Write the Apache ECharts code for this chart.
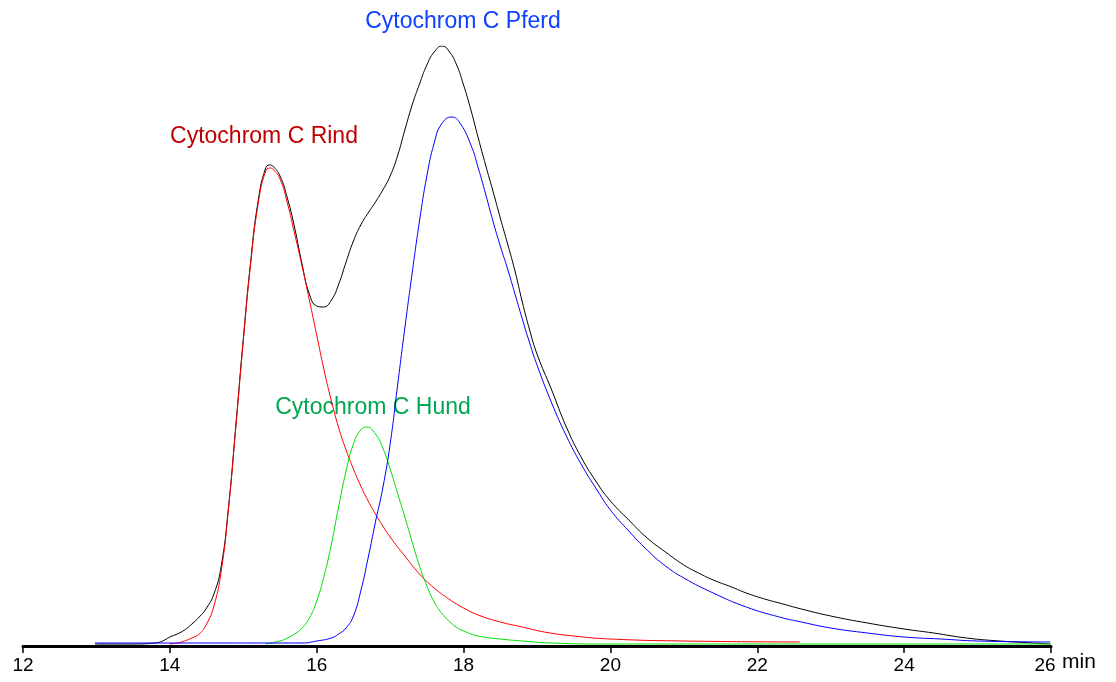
<!DOCTYPE html>
<html>
<head>
<meta charset="utf-8">
<script src="https://cdn.jsdelivr.net/npm/echarts@6/dist/echarts.min.js"></script>
<style>html,body{margin:0;padding:0;background:#fff;}#chart{width:1116px;height:682px;}</style>
</head>
<body>
<div id="chart"></div>
<script>
// x ticks (retention time, min)
const xTicks = [12, 14, 16, 18, 20, 22, 24, 26];
const xUnit = 'min';

// Labels of the fitted components
const labelRind = 'Cytochrom C Rind';
const labelHund = 'Cytochrom C Hund';
const labelPferd = 'Cytochrom C Pferd';

// Measured total signal [time, signal]
const totalSignal = [
  [12.98, 2], [13.5, 2], [13.8, 3], [13.9, 5], [14.0, 9], [14.1, 12], [14.2, 16], [14.3, 22], [14.4, 29],
  [14.5, 38], [14.6, 52], [14.7, 80], [14.8, 140], [14.9, 222], [15.0, 307], [15.1, 384], [15.2, 444],
  [15.3, 477], [15.36, 481], [15.4, 480], [15.5, 470], [15.6, 448], [15.7, 418], [15.8, 382], [15.9, 352],
  [16.0, 340], [16.09, 339], [16.2, 346], [16.3, 362], [16.4, 384], [16.5, 405], [16.6, 421], [16.7, 433],
  [16.8, 444], [16.9, 456], [17.0, 470], [17.1, 490], [17.2, 516], [17.3, 541], [17.4, 562], [17.5, 581],
  [17.6, 594], [17.71, 600], [17.8, 595], [17.9, 582], [18.0, 561], [18.1, 536], [18.2, 508], [18.3, 481],
  [18.4, 455], [18.5, 428], [18.6, 402], [18.7, 375], [18.8, 344], [18.9, 316], [19.0, 292], [19.2, 256],
  [19.4, 219], [19.6, 189], [19.8, 165], [20.0, 145], [20.25, 126], [20.5, 108], [20.75, 94], [21.0, 81],
  [21.2, 73], [21.4, 66], [21.65, 59], [21.85, 53], [22.1, 47], [22.3, 43], [22.6, 37], [23.0, 30],
  [23.5, 23], [24.0, 17], [24.4, 13], [24.85, 8], [25.3, 5], [25.75, 3], [25.99, 2]
];

// Fitted component: Cytochrom C Rind
const rindSignal = [
  [14.0, 2], [14.1, 3], [14.2, 5], [14.3, 8], [14.4, 12], [14.5, 22], [14.6, 40], [14.7, 75], [14.8, 138],
  [14.9, 220], [15.0, 305], [15.1, 382], [15.2, 441], [15.3, 474], [15.36, 478], [15.4, 477], [15.5, 467],
  [15.6, 443], [15.7, 412], [15.8, 380], [15.9, 346], [16.0, 311], [16.1, 276], [16.2, 245], [16.3, 218],
  [16.4, 196], [16.5, 177], [16.6, 160], [16.7, 145], [16.8, 132], [16.9, 120], [17.0, 109], [17.2, 90],
  [17.4, 72], [17.6, 58], [17.8, 47], [18.0, 38], [18.2, 31], [18.5, 24], [18.8, 19], [19.1, 14],
  [19.5, 10], [20.0, 7], [21.0, 5], [22.58, 4]
];

// Fitted component: Cytochrom C Hund
const hundSignal = [
  [15.3, 2], [15.5, 5], [15.6, 8], [15.7, 12], [15.8, 18], [15.9, 28], [16.0, 45], [16.1, 70], [16.2, 102],
  [16.3, 140], [16.4, 175], [16.5, 202], [16.6, 216], [16.68, 219], [16.8, 212], [16.9, 198], [17.0, 177],
  [17.1, 153], [17.2, 129], [17.3, 104], [17.4, 80], [17.5, 60], [17.6, 44], [17.7, 33], [17.8, 25],
  [17.9, 19], [18.0, 15], [18.2, 10], [18.5, 7], [18.8, 5], [19.2, 3], [19.9, 2], [26.0, 2]
];

// Fitted component: Cytochrom C Pferd
const pferdSignal = [
  [12.98, 3], [15.8, 3], [16.0, 5], [16.2, 8], [16.3, 12], [16.4, 18], [16.5, 30], [16.6, 55], [16.7, 88],
  [16.8, 124], [16.9, 158], [17.0, 202], [17.1, 260], [17.2, 318], [17.3, 373], [17.4, 425], [17.5, 470],
  [17.6, 503], [17.7, 522], [17.84, 529], [17.95, 523], [18.1, 501], [18.2, 478], [18.3, 452], [18.4, 425],
  [18.5, 400], [18.6, 377], [18.7, 352], [18.8, 327], [18.9, 303], [19.0, 281], [19.2, 243], [19.4, 210],
  [19.6, 182], [19.8, 158], [20.0, 136], [20.25, 115], [20.5, 96], [20.75, 80], [21.0, 68], [21.4, 53],
  [21.85, 39], [22.3, 29], [22.6, 24], [23.0, 18], [23.5, 13], [24.0, 9], [24.5, 7], [25.0, 5], [25.99, 4]
];

const chart = echarts.init(document.getElementById('chart'), null, {renderer: 'canvas'});
const FONT = '"Liberation Sans", Arial, sans-serif';

function lineSeries(name, data, color, z) {
  return {
    name: name, type: 'line', data: data, showSymbol: false, smooth: 0.5,
    lineStyle: {color: color, width: 1}, z: z, silent: true, animation: false
  };
}

chart.setOption({
  animation: false,
  backgroundColor: '#ffffff',
  grid: {left: 23, right: 65, top: 46, bottom: 36, containLabel: false},
  xAxis: {
    type: 'value', min: xTicks[0], max: xTicks[xTicks.length - 1], interval: 2,
    axisLine: {show: true, lineStyle: {color: '#000', width: 3}},
    axisTick: {show: true, length: 7, lineStyle: {color: '#000', width: 1.5}},
    axisLabel: {
      color: '#000', fontSize: 19, fontFamily: FONT, margin: 10,
      formatter: function (v) { return v === 26 ? '{e|26}' : String(v); },
      rich: {e: {fontSize: 19, fontFamily: FONT, color: '#000', padding: [0, 12, 0, 0]}}
    },
    splitLine: {show: false}
  },
  yAxis: {
    type: 'value', min: 0, max: 600, show: false, splitLine: {show: false}
  },
  series: [
    lineSeries('Gesamt', totalSignal, '#000000', 2),
    lineSeries(labelRind, rindSignal, '#ff0000', 3),
    lineSeries(labelHund, hundSignal, '#00e000', 4),
    lineSeries(labelPferd, pferdSignal, '#0000ff', 5)
  ],
  graphic: [
    {type: 'text', left: 1062, top: 652, style: {text: xUnit, fill: '#000', font: '21px ' + FONT}},
    {type: 'text', x: 264, y: 137, style: {text: labelRind, fill: '#c00000', font: '23px ' + FONT, textAlign: 'center', textVerticalAlign: 'middle'}},
    {type: 'text', x: 373, y: 408, style: {text: labelHund, fill: '#00a651', font: '23px ' + FONT, textAlign: 'center', textVerticalAlign: 'middle'}},
    {type: 'text', x: 463, y: 22, style: {text: labelPferd, fill: '#1040ff', font: '23px ' + FONT, textAlign: 'center', textVerticalAlign: 'middle'}}
  ]
});
</script>
</body>
</html>
